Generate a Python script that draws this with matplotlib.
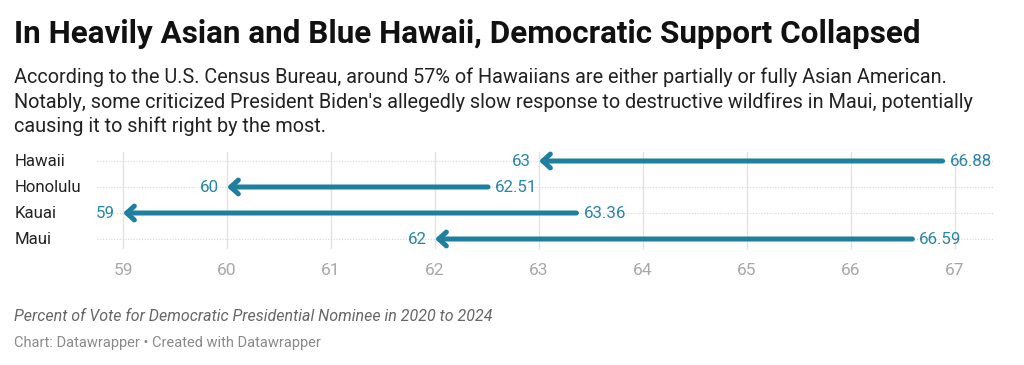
import matplotlib
matplotlib.use("Agg")
import matplotlib.pyplot as plt

counties = ["Hawaii", "Honolulu", "Kauai", "Maui"]
vote_2020 = [66.88, 62.51, 63.36, 66.59]
vote_2024 = [63, 60, 59, 62]
ticks = [59, 60, 61, 62, 63, 64, 65, 66, 67]

plt.rcParams['font.family'] = ['Roboto', 'DejaVu Sans']

W, H = 1024, 365
fig = plt.figure(figsize=(W/100, H/100), dpi=100)

def fx(px): return px / W
def fy(py): return 1 - py / H

ax = fig.add_axes([fx(97), fy(252), fx(993) - fx(97), (252 - 148) / H])
ax.set_xlim(58.75, 67.365)
ax.set_ylim(3.5, -0.5)

arrow_c = "#1f7f9f"
label_c = "#2a85a6"

for t in ticks:
    ax.axvline(t, ymin=0.04, ymax=0.96, color="#e3e3e3", lw=1, zorder=0)

for i, (c, a, b) in enumerate(zip(counties, vote_2020, vote_2024)):
    ax.axhline(i, color="#d6d6d6", lw=0.8, ls=(0, (1, 1.5)), zorder=0)
    ax.annotate("", xy=(b, i), xytext=(a, i),
                arrowprops=dict(arrowstyle="->,head_length=0.55,head_width=0.5",
                                lw=3.6, color=arrow_c, shrinkA=0, shrinkB=0,
                                capstyle="round"), zorder=3)
    ax.annotate(f"{b:g}", xy=(b, i), xytext=(-6, 0), textcoords="offset points",
                ha="right", va="center", fontsize=12.2, color=label_c)
    ax.annotate(f"{a:g}", xy=(a, i), xytext=(5, 0), textcoords="offset points",
                ha="left", va="center", fontsize=12.2, color=label_c)
    fig.text(fx(15), fy(161 + 26 * i), c, ha="left", va="center", fontsize=12.1, color="#222222")

ax.set_xticks(ticks)
ax.set_xticklabels([str(t) for t in ticks], fontsize=12.5, color="#a8a8a8")
ax.tick_params(axis="x", length=0, pad=8)
ax.set_yticks([])
for s in ax.spines.values():
    s.set_visible(False)

fig.text(fx(14), fy(43), "In Heavily Asian and Blue Hawaii, Democratic Support Collapsed",
         ha="left", va="baseline", fontsize=22.6, fontweight="bold", color="#111111")
sub_lines = [
    "According to the U.S. Census Bureau, around 57% of Hawaiians are either partially or fully Asian American.",
    "Notably, some criticized President Biden's allegedly slow response to destructive wildfires in Maui, potentially",
    "causing it to shift right by the most.",
]
for k, line in enumerate(sub_lines):
    fig.text(fx(14), fy(83 + 24.5 * k), line, ha="left", va="baseline", fontsize=14.35, color="#222222")

fig.text(fx(14), fy(321), "Percent of Vote for Democratic Presidential Nominee in 2020 to 2024",
         ha="left", va="baseline", fontsize=11.55, style="italic", color="#666666")
fig.text(fx(14), fy(347), "Chart: Datawrapper \u2022 Created with Datawrapper",
         ha="left", va="baseline", fontsize=10.5, color="#8a8a8a")

fig.savefig("out.png", dpi=100, facecolor="white")
